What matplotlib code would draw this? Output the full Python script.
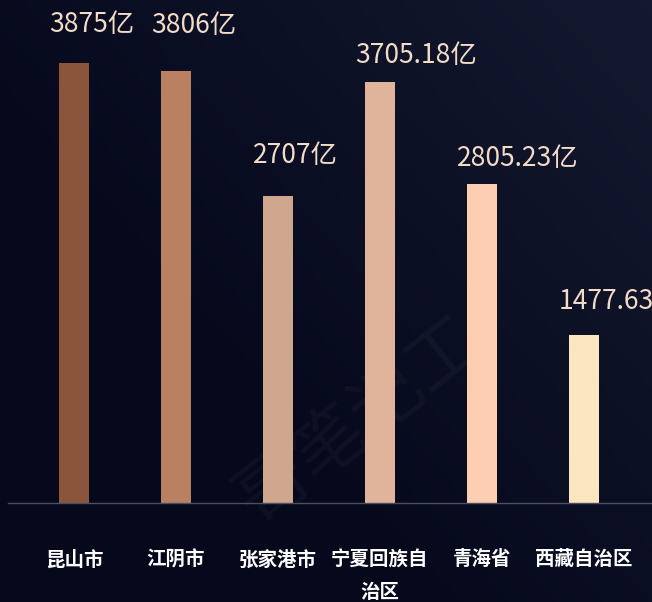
import numpy as np
import matplotlib
matplotlib.use("Agg")
import matplotlib.pyplot as plt

plt.rcParams['font.family'] = ['Noto Sans CJK SC', 'DejaVu Sans']

# data
places = ['昆山市', '江阴市', '张家港市', '宁夏回族自\n治区', '青海省', '西藏自治区']
gdp = [3875, 3806, 2707, 3705.18, 2805.23, 1477.63]
gdp_text = ['3875亿', '3806亿', '2707亿', '3705.18亿', '2805.23亿', '1477.63亿']
bar_colors = ['#8a553a', '#b98062', '#cfa68e', '#e0b49b', '#fdceb2', '#fce6c0']
# how far (pt) each value label sits above its bar
label_lift = [28, 33, 29, 19, 19, 24]

fig = plt.figure(figsize=(6.52, 6.02), dpi=100)

# background gradient, dark navy with a lighter top right
bg = fig.add_axes([0, 0, 1, 1])
yy, xx = np.mgrid[0:1:200j, 0:1:200j]
light = np.clip(0.55 * xx + 0.45 * (1 - yy) - 0.35, 0, 1)
c0 = np.array([6, 9, 28]) / 255
c1 = np.array([28, 34, 58]) / 255
img = c0 + light[..., None] * (c1 - c0)
bg.imshow(img, extent=[0, 1, 0, 1], aspect='auto', origin='upper')
bg.set_axis_off()

# faint watermark
bg.text(0.55, 0.30, '哥笔记工', fontsize=52, color='white', alpha=0.035,
        rotation=38, ha='center', va='center')

ax = fig.add_axes([8 / 652, 99 / 602, 644 / 652, 503 / 602])
ax.patch.set_alpha(0)
x = np.arange(len(places))
ax.bar(x, gdp, width=0.3, color=bar_colors, zorder=2)

for xi, v, t, lift in zip(x, gdp, gdp_text, label_lift):
    ax.annotate(t, (xi, v), xytext=(-18, lift), textcoords='offset points',
                ha='left', va='center', fontsize=19, color='#f2dcc8',
                annotation_clip=False)

ax.set_xlim(-0.647, 5.667)
ax.set_ylim(0, 4430)
ax.set_xticks(x)
ax.set_xticklabels(places, fontsize=14, fontweight='bold', color='white',
                   linespacing=1.9)
ax.tick_params(axis='x', length=0, pad=34)
ax.set_yticks([])
for s in ['top', 'right', 'left']:
    ax.spines[s].set_visible(False)
ax.spines['bottom'].set_color('#4b4f60')
ax.spines['bottom'].set_linewidth(1)

fig.savefig('out.png', dpi=100, facecolor='#070b1f')
